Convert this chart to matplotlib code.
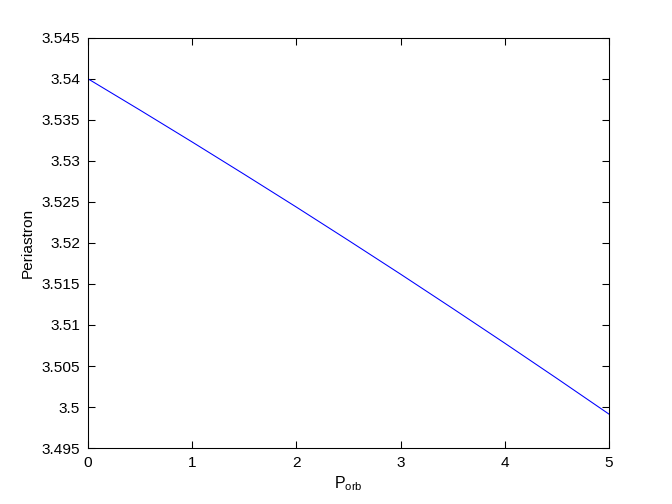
import matplotlib
matplotlib.use("Agg")
import matplotlib.pyplot as plt
import numpy as np

plt.rcParams['font.family'] = ['Liberation Sans', 'DejaVu Sans']
plt.rcParams['mathtext.fontset'] = 'custom'
plt.rcParams['mathtext.rm'] = 'Liberation Sans'

p_orb = [0.0, 0.5, 1.0, 1.5, 2.0, 2.5, 3.0, 3.5, 4.0, 4.5, 5.0]
periastron = [3.5400, 3.53618, 3.53230, 3.52836, 3.52437, 3.52031,
              3.51620, 3.51202, 3.50779, 3.50350, 3.49915]

xticks = [0, 1, 2, 3, 4, 5]
yticks = [3.495, 3.5, 3.505, 3.51, 3.515, 3.52, 3.525, 3.53, 3.535, 3.54, 3.545]

fig = plt.figure(figsize=(7, 5.25), dpi=96)
ax = fig.add_axes([0.131, 0.111, 0.775, 0.814])
ax.plot(p_orb, periastron, color=(0, 0, 1), linewidth=0.8)
ax.set_xlim(0, 5)
ax.set_ylim(3.495, 3.545)
ax.set_xticks(xticks)
ax.set_xticklabels([f"{v:g}" for v in xticks])
ax.set_yticks(yticks)
ax.set_yticklabels([f"{v:g}" for v in yticks])
ax.tick_params(direction='in', top=True, right=True, length=5, width=0.8,
               labelsize=11.5, pad=6)
for s in ax.spines.values():
    s.set_linewidth(0.8)
ax.set_xlabel(r'$\mathregular{P_{orb}}$', fontsize=12, labelpad=3)
ax.set_ylabel('Periastron', fontsize=11.5, labelpad=5)
fig.savefig('out.png', dpi=96)
